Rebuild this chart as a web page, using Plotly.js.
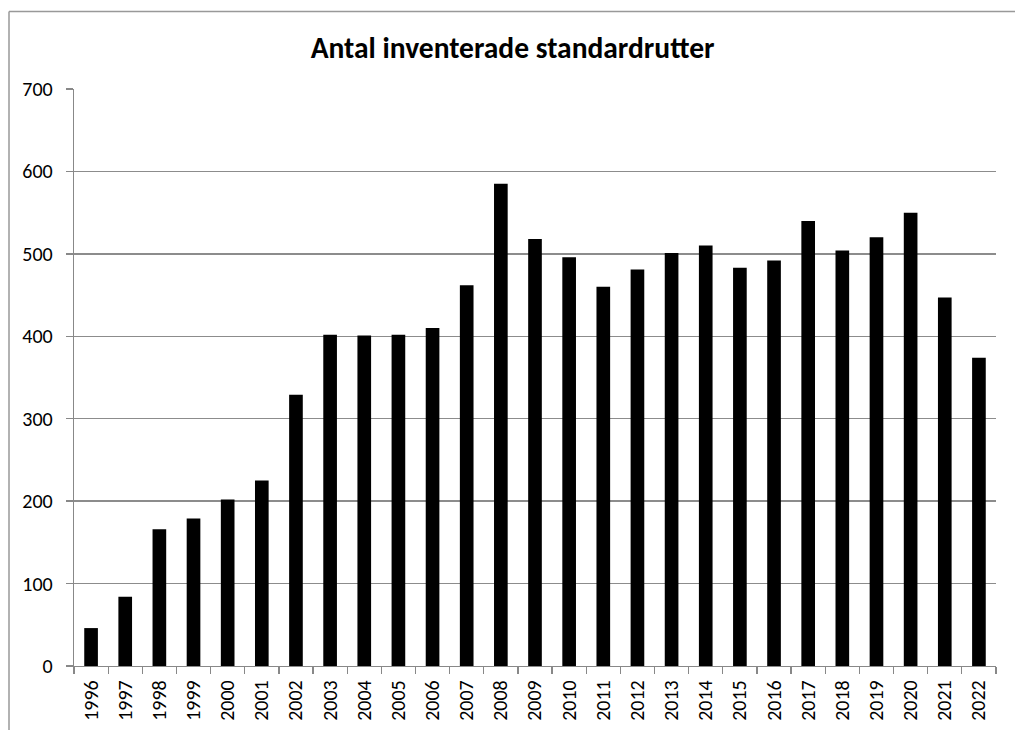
<!DOCTYPE html>
<html>
<head>
<meta charset="utf-8">
<script src="https://cdn.plot.ly/plotly-3.0.1.min.js"></script>
<style>html,body{margin:0;padding:0;background:#fff;}#chart{width:1015px;height:730px;}</style>
</head>
<body>
<div id="chart"></div>
<script>
const years = ["1996","1997","1998","1999","2000","2001","2002","2003","2004","2005","2006","2007","2008","2009","2010","2011","2012","2013","2014","2015","2016","2017","2018","2019","2020","2021","2022"];
const counts = [46,84,166,179,202,225,329,402,401,402,410,462,585,518,496,460,481,501,510,483,492,540,504,520,550,447,374];
const titleText = "Antal inventerade standardrutter";
const yTicks = [0,100,200,300,400,500,600,700];

const L = 74, R = 996, T = 88.5, B = 666;
const W = 1015, H = 730;
const pw = R - L, ph = B - T;
const px = v => (v - L) / pw;
const py = v => (B - v) / ph;

const fontFam = "Carlito, 'Open Sans', 'Liberation Sans', sans-serif";

const data = [{
  type: "bar",
  x: years,
  y: counts,
  marker: {color: "#000000", line: {width: 0}},
  hoverinfo: "x+y"
}];

const layout = {
  width: W, height: H,
  margin: {l: L, r: W - R, t: T, b: H - B, pad: 0},
  paper_bgcolor: "#ffffff",
  plot_bgcolor: "#ffffff",
  showlegend: false,
  bargap: 0.6,
  title: {
    text: "<b>" + titleText + "</b>",
    font: {family: fontFam, size: 29.5, color: "#000"},
    x: 0.505, xanchor: "center",
    y: 1 - 48 / H, yanchor: "middle"
  },
  xaxis: {
    type: "category",
    tickson: "boundaries",
    ticks: "outside", ticklen: 7, tickcolor: "#888", tickwidth: 1.3,
    showgrid: false,
    showline: true, linecolor: "#888", linewidth: 1.3,
    tickangle: -90,
    ticklabelstandoff: 5,
    tickfont: {family: fontFam, size: 20, color: "#000"},
    fixedrange: true
  },
  yaxis: {
    range: [0, 700],
    tickvals: yTicks,
    ticktext: yTicks.map(String),
    ticks: "outside", ticklen: 7, tickcolor: "#888", tickwidth: 1.3,
    showgrid: true, gridcolor: "#8c8c8c", gridwidth: 1.5,
    zeroline: false,
    showline: true, linecolor: "#888", linewidth: 1.3,
    ticklabelstandoff: 9,
    tickfont: {family: fontFam, size: 20, color: "#000"},
    fixedrange: true
  },
  shapes: [
    {type: "line", xref: "paper", yref: "paper", x0: px(9), x1: px(1020), y0: py(11), y1: py(11), line: {color: "#999", width: 1.5}},
    {type: "line", xref: "paper", yref: "paper", x0: px(9), x1: px(9), y0: py(11), y1: py(740), line: {color: "#999", width: 1.5}}
  ]
};

Plotly.newPlot("chart", data, layout, {displayModeBar: false, staticPlot: true});
</script>
</body>
</html>
